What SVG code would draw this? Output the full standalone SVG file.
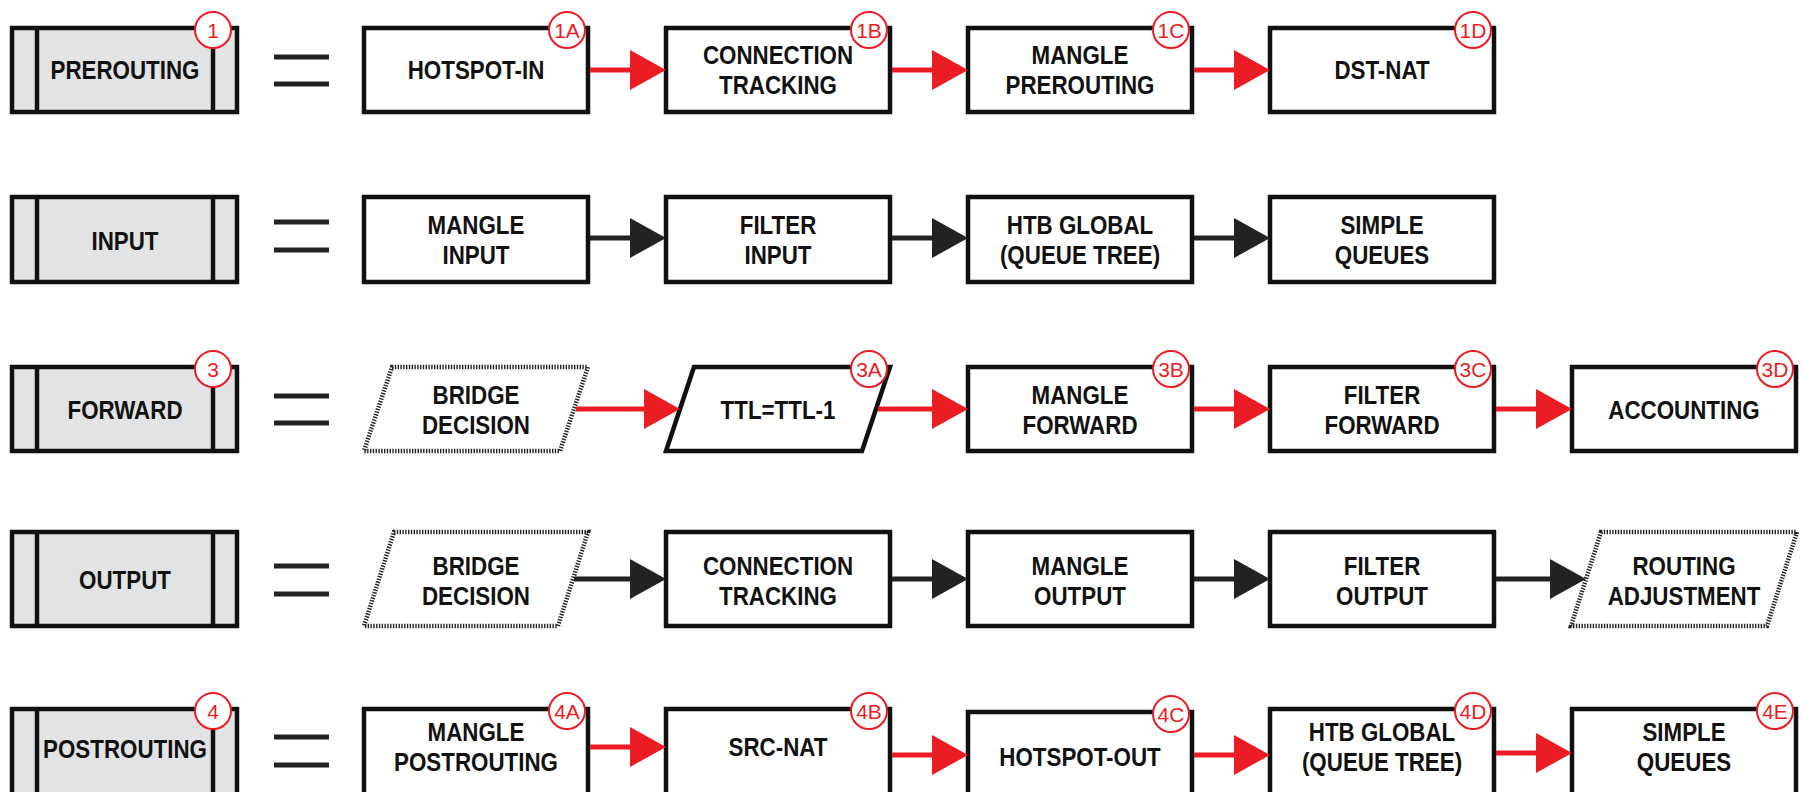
<svg xmlns="http://www.w3.org/2000/svg" width="1802" height="792" viewBox="0 0 1802 792">
<style>
.t{font-family:"Liberation Sans",Arial,sans-serif;font-weight:bold;font-size:26px;fill:#111;text-anchor:middle}
.box{fill:#fff;stroke:#111;stroke-width:4.5}
.hdr{fill:#e2e3e5;stroke:#111;stroke-width:4.5}
.bar{stroke:#111;stroke-width:4.5}
.dot{fill:#fff;stroke:#222;stroke-width:4.5;stroke-dasharray:1.4 1.4}
.pg{fill:#fff;stroke:#111;stroke-width:4.5;stroke-linejoin:miter}
.bc{fill:#fff;stroke:#ec1c24;stroke-width:2}
.bt{font-family:"Liberation Sans",Arial,sans-serif;font-size:21px;fill:#ec1c24;text-anchor:middle}
.eq{stroke:#222;stroke-width:5}
.ra{stroke:#ec1c24;stroke-width:5;fill:none}
.ka{stroke:#222;stroke-width:5;fill:none}
</style>
<defs>
<marker id="mr" markerUnits="userSpaceOnUse" markerWidth="36" markerHeight="40" refX="10" refY="20" orient="auto"><path d="M0,0 L36,20 L0,40 Z" fill="#ec1c24"/></marker>
<marker id="mk" markerUnits="userSpaceOnUse" markerWidth="36" markerHeight="40" refX="10" refY="20" orient="auto"><path d="M0,0 L36,20 L0,40 Z" fill="#222"/></marker>
</defs>

<!-- ROW 1 -->
<g id="n1"><rect class="hdr" x="12" y="28" width="225" height="84"/><line class="bar" x1="37" y1="28" x2="37" y2="112"/><line class="bar" x1="213" y1="28" x2="213" y2="112"/><text class="t" transform="translate(125 0) scale(0.86 1)" x="0" y="79">PREROUTING</text><circle class="bc" cx="213" cy="30" r="18"/><text class="bt" x="213" y="37.5">1</text></g>
<g id="eq1"><line class="eq" x1="274" y1="57" x2="329" y2="57"/><line class="eq" x1="274" y1="84" x2="329" y2="84"/></g>
<g id="n1A"><rect class="box" x="364" y="28" width="224" height="84"/><text class="t" transform="translate(476 0) scale(0.86 1)" x="0" y="79">HOTSPOT-IN</text><circle class="bc" cx="567" cy="30" r="18"/><text class="bt" x="567" y="37.5">1A</text></g>
<g id="n1B"><rect class="box" x="666" y="28" width="224" height="84"/><text class="t" transform="translate(778 0) scale(0.86 1)"><tspan x="0" y="64">CONNECTION</tspan><tspan x="0" y="94">TRACKING</tspan></text><circle class="bc" cx="869" cy="30" r="18"/><text class="bt" x="869" y="37.5">1B</text></g>
<g id="n1C"><rect class="box" x="968" y="28" width="224" height="84"/><text class="t" transform="translate(1080 0) scale(0.86 1)"><tspan x="0" y="64">MANGLE</tspan><tspan x="0" y="94">PREROUTING</tspan></text><circle class="bc" cx="1171" cy="30" r="18"/><text class="bt" x="1171" y="37.5">1C</text></g>
<g id="n1D"><rect class="box" x="1270" y="28" width="224" height="84"/><text class="t" transform="translate(1382 0) scale(0.86 1)" x="0" y="79">DST-NAT</text><circle class="bc" cx="1473" cy="30" r="18"/><text class="bt" x="1473" y="37.5">1D</text></g>

<!-- ROW 2 -->
<g id="n2"><rect class="hdr" x="12" y="197" width="225" height="85"/><line class="bar" x1="37" y1="197" x2="37" y2="282"/><line class="bar" x1="213" y1="197" x2="213" y2="282"/><text class="t" transform="translate(125 0) scale(0.86 1)" x="0" y="250">INPUT</text></g>
<g id="eq2"><line class="eq" x1="274" y1="222" x2="329" y2="222"/><line class="eq" x1="274" y1="250" x2="329" y2="250"/></g>
<g id="n2A"><rect class="box" x="364" y="197" width="224" height="85"/><text class="t" transform="translate(476 0) scale(0.86 1)"><tspan x="0" y="234">MANGLE</tspan><tspan x="0" y="264">INPUT</tspan></text></g>
<g id="n2B"><rect class="box" x="666" y="197" width="224" height="85"/><text class="t" transform="translate(778 0) scale(0.86 1)"><tspan x="0" y="234">FILTER</tspan><tspan x="0" y="264">INPUT</tspan></text></g>
<g id="n2C"><rect class="box" x="968" y="197" width="224" height="85"/><text class="t" transform="translate(1080 0) scale(0.86 1)"><tspan x="0" y="234">HTB GLOBAL</tspan><tspan x="0" y="264">(QUEUE TREE)</tspan></text></g>
<g id="n2D"><rect class="box" x="1270" y="197" width="224" height="85"/><text class="t" transform="translate(1382 0) scale(0.86 1)"><tspan x="0" y="234">SIMPLE</tspan><tspan x="0" y="264">QUEUES</tspan></text></g>

<!-- ROW 3 -->
<g id="n3"><rect class="hdr" x="12" y="367" width="225" height="84"/><line class="bar" x1="37" y1="367" x2="37" y2="451"/><line class="bar" x1="213" y1="367" x2="213" y2="451"/><text class="t" transform="translate(125 0) scale(0.86 1)" x="0" y="419">FORWARD</text><circle class="bc" cx="213" cy="369" r="18"/><text class="bt" x="213" y="376.5">3</text></g>
<g id="eq3"><line class="eq" x1="274" y1="396" x2="329" y2="396"/><line class="eq" x1="274" y1="423" x2="329" y2="423"/></g>
<g id="n3a"><polygon class="dot" points="392,367 588,367 560,451 364,451"/><text class="t" transform="translate(476 0) scale(0.86 1)"><tspan x="0" y="404">BRIDGE</tspan><tspan x="0" y="434">DECISION</tspan></text></g>
<g id="n3A"><polygon class="pg" points="694,367 890,367 862,451 666,451"/><text class="t" transform="translate(778 0) scale(0.86 1)" x="0" y="419">TTL=TTL-1</text><circle class="bc" cx="869" cy="369" r="18"/><text class="bt" x="869" y="376.5">3A</text></g>
<g id="n3B"><rect class="box" x="968" y="367" width="224" height="84"/><text class="t" transform="translate(1080 0) scale(0.86 1)"><tspan x="0" y="404">MANGLE</tspan><tspan x="0" y="434">FORWARD</tspan></text><circle class="bc" cx="1171" cy="369" r="18"/><text class="bt" x="1171" y="376.5">3B</text></g>
<g id="n3C"><rect class="box" x="1270" y="367" width="224" height="84"/><text class="t" transform="translate(1382 0) scale(0.86 1)"><tspan x="0" y="404">FILTER</tspan><tspan x="0" y="434">FORWARD</tspan></text><circle class="bc" cx="1473" cy="369" r="18"/><text class="bt" x="1473" y="376.5">3C</text></g>
<g id="n3D"><rect class="box" x="1572" y="367" width="224" height="84"/><text class="t" transform="translate(1684 0) scale(0.86 1)" x="0" y="419">ACCOUNTING</text><circle class="bc" cx="1775" cy="369" r="18"/><text class="bt" x="1775" y="376.5">3D</text></g>

<!-- ROW 4 -->
<g id="n4"><rect class="hdr" x="12" y="532" width="225" height="94"/><line class="bar" x1="37" y1="532" x2="37" y2="626"/><line class="bar" x1="213" y1="532" x2="213" y2="626"/><text class="t" transform="translate(125 0) scale(0.86 1)" x="0" y="589">OUTPUT</text></g>
<g id="eq4"><line class="eq" x1="274" y1="566" x2="329" y2="566"/><line class="eq" x1="274" y1="594" x2="329" y2="594"/></g>
<g id="n4a"><polygon class="dot" points="394,532 588,532 558,626 364,626"/><text class="t" transform="translate(476 0) scale(0.86 1)"><tspan x="0" y="575">BRIDGE</tspan><tspan x="0" y="605">DECISION</tspan></text></g>
<g id="n4b"><rect class="box" x="666" y="532" width="224" height="94"/><text class="t" transform="translate(778 0) scale(0.86 1)"><tspan x="0" y="575">CONNECTION</tspan><tspan x="0" y="605">TRACKING</tspan></text></g>
<g id="n4c"><rect class="box" x="968" y="532" width="224" height="94"/><text class="t" transform="translate(1080 0) scale(0.86 1)"><tspan x="0" y="575">MANGLE</tspan><tspan x="0" y="605">OUTPUT</tspan></text></g>
<g id="n4d"><rect class="box" x="1270" y="532" width="224" height="94"/><text class="t" transform="translate(1382 0) scale(0.86 1)"><tspan x="0" y="575">FILTER</tspan><tspan x="0" y="605">OUTPUT</tspan></text></g>
<g id="n4e"><polygon class="dot" points="1601,532 1797,532 1767,626 1571,626"/><text class="t" transform="translate(1684 0) scale(0.86 1)"><tspan x="0" y="575">ROUTING</tspan><tspan x="0" y="605">ADJUSTMENT</tspan></text></g>

<!-- ROW 5 -->
<g id="n5"><rect class="hdr" x="12" y="709" width="225" height="95"/><line class="bar" x1="37" y1="709" x2="37" y2="804"/><line class="bar" x1="213" y1="709" x2="213" y2="804"/><text class="t" transform="translate(125 0) scale(0.86 1)" x="0" y="758">POSTROUTING</text><circle class="bc" cx="213" cy="711" r="18"/><text class="bt" x="213" y="718.5">4</text></g>
<g id="eq5"><line class="eq" x1="274" y1="737" x2="329" y2="737"/><line class="eq" x1="274" y1="765" x2="329" y2="765"/></g>
<g id="n4A"><rect class="box" x="364" y="709" width="224" height="95"/><text class="t" transform="translate(476 0) scale(0.86 1)"><tspan x="0" y="741">MANGLE</tspan><tspan x="0" y="771">POSTROUTING</tspan></text><circle class="bc" cx="567" cy="711" r="18"/><text class="bt" x="567" y="718.5">4A</text></g>
<g id="n4B"><rect class="box" x="666" y="709" width="224" height="95"/><text class="t" transform="translate(778 0) scale(0.86 1)" x="0" y="756">SRC-NAT</text><circle class="bc" cx="869" cy="711" r="18"/><text class="bt" x="869" y="718.5">4B</text></g>
<g id="n4C"><rect class="box" x="968" y="712" width="224" height="95"/><text class="t" transform="translate(1080 0) scale(0.86 1)" x="0" y="766">HOTSPOT-OUT</text><circle class="bc" cx="1171" cy="714" r="18"/><text class="bt" x="1171" y="721.5">4C</text></g>
<g id="n4D"><rect class="box" x="1270" y="709" width="224" height="95"/><text class="t" transform="translate(1382 0) scale(0.86 1)"><tspan x="0" y="741">HTB GLOBAL</tspan><tspan x="0" y="771">(QUEUE TREE)</tspan></text><circle class="bc" cx="1473" cy="711" r="18"/><text class="bt" x="1473" y="718.5">4D</text></g>
<g id="n4E"><rect class="box" x="1572" y="709" width="224" height="95"/><text class="t" transform="translate(1684 0) scale(0.86 1)"><tspan x="0" y="741">SIMPLE</tspan><tspan x="0" y="771">QUEUES</tspan></text><circle class="bc" cx="1775" cy="711" r="18"/><text class="bt" x="1775" y="718.5">4E</text></g>

<!-- CONNECTORS -->
<g id="connectors">
<line class="ra" x1="590" y1="70" x2="640" y2="70" marker-end="url(#mr)"/>
<line class="ra" x1="892" y1="70" x2="942" y2="70" marker-end="url(#mr)"/>
<line class="ra" x1="1194" y1="70" x2="1244" y2="70" marker-end="url(#mr)"/>

<line class="ka" x1="590" y1="238" x2="640" y2="238" marker-end="url(#mk)"/>
<line class="ka" x1="892" y1="238" x2="942" y2="238" marker-end="url(#mk)"/>
<line class="ka" x1="1194" y1="238" x2="1244" y2="238" marker-end="url(#mk)"/>

<line class="ra" x1="576" y1="409" x2="654" y2="409" marker-end="url(#mr)"/>
<line class="ra" x1="878" y1="409" x2="942" y2="409" marker-end="url(#mr)"/>
<line class="ra" x1="1194" y1="409" x2="1244" y2="409" marker-end="url(#mr)"/>
<line class="ra" x1="1496" y1="409" x2="1546" y2="409" marker-end="url(#mr)"/>

<line class="ka" x1="574" y1="579" x2="640" y2="579" marker-end="url(#mk)"/>
<line class="ka" x1="892" y1="579" x2="942" y2="579" marker-end="url(#mk)"/>
<line class="ka" x1="1194" y1="579" x2="1244" y2="579" marker-end="url(#mk)"/>
<line class="ka" x1="1496" y1="579" x2="1560" y2="579" marker-end="url(#mk)"/>

<line class="ra" x1="590" y1="747" x2="640" y2="747" marker-end="url(#mr)"/>
<line class="ra" x1="892" y1="755" x2="942" y2="755" marker-end="url(#mr)"/>
<line class="ra" x1="1194" y1="755" x2="1244" y2="755" marker-end="url(#mr)"/>
<line class="ra" x1="1496" y1="753" x2="1546" y2="753" marker-end="url(#mr)"/>
</g>
</svg>
